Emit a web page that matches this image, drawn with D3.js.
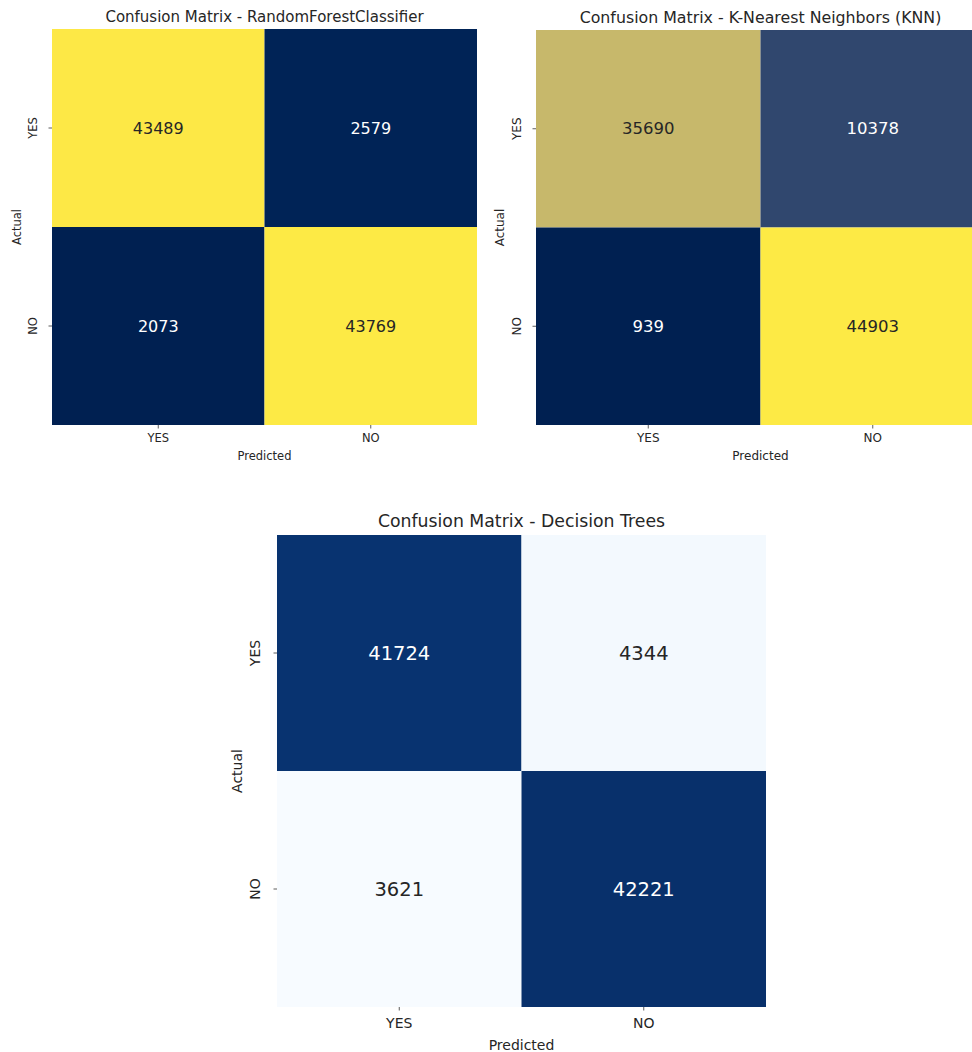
<!DOCTYPE html>
<html>
<head>
<meta charset="utf-8">
<script src="https://cdn.jsdelivr.net/npm/d3@7"></script>
<style>
  html, body { margin: 0; padding: 0; background: #ffffff; }
  svg { display: block; font-family: "DejaVu Sans", sans-serif; }
</style>
</head>
<body>
<svg id="chart" width="972" height="1052"></svg>
<script>
// Class labels shared by every matrix (rows = actual, columns = predicted)
const classLabels = ["YES", "NO"];

// Confusion matrix counts per model
const rfValues  = [[43489, 2579], [2073, 43769]];
const knnValues = [[35690, 10378], [939, 44903]];
const dtValues  = [[41724, 4344], [3621, 42221]];

const rfTitle  = "Confusion Matrix - RandomForestClassifier";
const knnTitle = "Confusion Matrix - K-Nearest Neighbors (KNN)";
const dtTitle  = "Confusion Matrix - Decision Trees";

const svg = d3.select("#chart");

function drawMatrix(cfg) {
  const g = svg.append("g").attr("transform", `translate(${cfg.x},${cfg.y})`);
  const flat = cfg.values.flat();
  const color = d3.scaleSequential(cfg.interp).domain(d3.extent(flat));

  const xScale = d3.scaleBand().domain(classLabels).range([0, cfg.w]);
  const yScale = d3.scaleBand().domain(classLabels).range([0, cfg.h]);

  const cells = [];
  cfg.values.forEach((row, i) => row.forEach((v, j) => cells.push({ actual: classLabels[i], pred: classLabels[j], v })));

  g.selectAll("rect.cell").data(cells).join("rect")
    .attr("class", "cell")
    .attr("x", d => xScale(d.pred))
    .attr("y", d => yScale(d.actual))
    .attr("width", xScale.bandwidth())
    .attr("height", yScale.bandwidth())
    .attr("fill", d => color(d.v));

  // annotation text: light on dark cells, dark on light cells
  g.selectAll("text.annot").data(cells).join("text")
    .attr("class", "annot")
    .attr("x", d => xScale(d.pred) + xScale.bandwidth() / 2)
    .attr("y", d => yScale(d.actual) + yScale.bandwidth() / 2)
    .attr("text-anchor", "middle")
    .attr("dominant-baseline", "central")
    .attr("font-size", cfg.annotSize)
    .attr("fill", d => d3.lab(color(d.v)).l > 50 ? "#262626" : "#ffffff")
    .text(d => d.v);

  // axes
  const xAxis = g.append("g").attr("transform", `translate(0,${cfg.h})`)
    .call(d3.axisBottom(xScale).tickSize(3.5).tickPadding(cfg.tickPad));
  const yAxis = g.append("g")
    .call(d3.axisLeft(yScale).tickSize(3.5).tickPadding(3));
  [xAxis, yAxis].forEach(ax => {
    ax.select(".domain").remove();
    ax.selectAll(".tick line").attr("stroke", "#333").attr("stroke-width", 0.8);
    ax.selectAll(".tick text").attr("fill", "#262626").attr("font-size", cfg.tickSize).attr("font-family", "DejaVu Sans, sans-serif");
  });
  yAxis.selectAll(".tick text")
    .attr("text-anchor", "middle")
    .attr("dy", null)
    .attr("x", null)
    .attr("transform", `translate(${-cfg.tickSize * 0.95 - 4},0) rotate(-90)`)
    .attr("dominant-baseline", "auto");

  // title and axis labels
  g.append("text")
    .attr("x", cfg.w / 2).attr("y", cfg.titleY)
    .attr("text-anchor", "middle")
    .attr("font-size", cfg.titleSize)
    .attr("fill", "#262626")
    .text(cfg.title);

  g.append("text")
    .attr("x", cfg.w / 2).attr("y", cfg.h + cfg.xLabelDy)
    .attr("text-anchor", "middle")
    .attr("font-size", cfg.labelSize)
    .attr("fill", "#262626")
    .text("Predicted");

  g.append("text")
    .attr("transform", `translate(${cfg.yLabelDx},${cfg.h / 2}) rotate(-90)`)
    .attr("text-anchor", "middle")
    .attr("font-size", cfg.labelSize)
    .attr("fill", "#262626")
    .text("Actual");
}

drawMatrix({
  values: rfValues, title: rfTitle, interp: d3.interpolateCividis,
  x: 52, y: 29, w: 425, h: 396,
  annotSize: 16, tickSize: 11.5, tickPad: 5, labelSize: 11.5, titleSize: 15,
  titleY: -7, xLabelDy: 35, yLabelDx: -31
});

drawMatrix({
  values: knnValues, title: knnTitle, interp: d3.interpolateCividis,
  x: 536, y: 30, w: 449, h: 395,
  annotSize: 16.5, tickSize: 12, tickPad: 5, labelSize: 12, titleSize: 15.8,
  titleY: -7, xLabelDy: 35, yLabelDx: -32
});

drawMatrix({
  values: dtValues, title: dtTitle, interp: d3.interpolateBlues,
  x: 277, y: 535, w: 489, h: 472,
  annotSize: 19.5, tickSize: 14, tickPad: 8, labelSize: 14, titleSize: 17.3,
  titleY: -8, xLabelDy: 43, yLabelDx: -35
});
</script>
</body>
</html>
